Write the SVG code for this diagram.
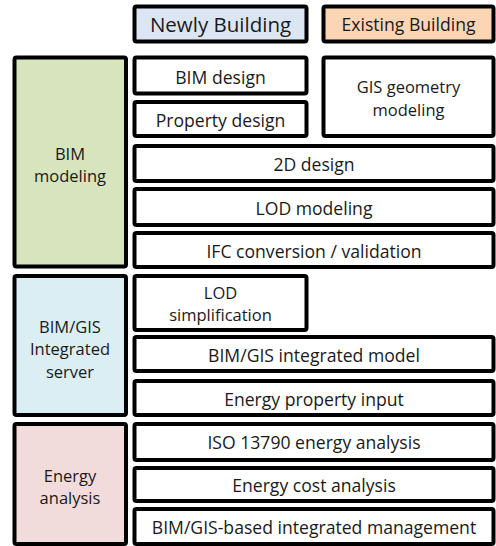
<svg xmlns="http://www.w3.org/2000/svg" width="496" height="546" viewBox="0 0 496 546">
<style>
rect{stroke:#000;stroke-width:4;fill:#fff}
text{font-family:"Open Sans","Noto Sans","DejaVu Sans",sans-serif;font-size:17.6px;fill:#1a1a1a;text-anchor:middle}
.hdr{font-size:20.5px}
.ml{font-size:16.5px}
.new{fill:#dce6f2}.old{fill:#fcd5b5}.green{fill:#d7e4bd}.blue{fill:#dbeef4}.pink{fill:#f2dcdb}
</style>
<rect x="0" y="0" width="496" height="546" style="fill:#fff;stroke:none"/>
<g id="newly-building"><rect class="new" x="134.5" y="6.5" width="172" height="35" rx="2"/><text class="hdr" x="220.5" y="31.5">Newly Building</text></g>
<g id="existing-building"><rect class="old" x="323.5" y="6.5" width="170" height="35" rx="2"/><text x="408.5" y="30.5">Existing Building</text></g>

<g id="bim-modeling"><rect class="green" x="14.5" y="57.5" width="111.5" height="209" rx="2"/><text class="ml" x="70" y="159.5">BIM</text><text class="ml" x="70" y="182">modeling</text></g>
<g id="bim-design"><rect x="134.5" y="57.5" width="172" height="36" rx="2"/><text x="220.5" y="83.5">BIM design</text></g>
<g id="property-design"><rect x="134.5" y="102" width="172" height="34" rx="2"/><text x="220.5" y="127">Property design</text></g>
<g id="gis-geometry"><rect x="323.5" y="57.5" width="170" height="78.5" rx="2"/><text class="ml" x="408.5" y="93">GIS geometry</text><text class="ml" x="408.5" y="115.5">modeling</text></g>
<g id="design-2d"><rect x="134.5" y="146" width="359" height="35" rx="2"/><text x="314" y="171">2D design</text></g>
<g id="lod-modeling"><rect x="134.5" y="189" width="359" height="36" rx="2"/><text x="314" y="215">LOD modeling</text></g>
<g id="ifc"><rect x="134.5" y="233" width="359" height="34" rx="2"/><text x="314" y="257.5">IFC conversion / validation</text></g>

<g id="bim-gis-server"><rect class="blue" x="14.5" y="276" width="111.5" height="139" rx="2"/><text class="ml" x="70" y="332.5">BIM/GIS</text><text class="ml" x="70" y="355">Integrated</text><text class="ml" x="70" y="377.5">server</text></g>
<g id="lod-simplification"><rect x="134.5" y="276" width="172" height="54" rx="2"/><text class="ml" x="220.5" y="298.5">LOD</text><text class="ml" x="220.5" y="321">simplification</text></g>
<g id="integrated-model"><rect x="134.5" y="337" width="359" height="34" rx="2"/><text x="314" y="361.5">BIM/GIS integrated model</text></g>
<g id="energy-property"><rect x="134.5" y="381" width="359" height="34" rx="2"/><text x="314" y="405.5">Energy property input</text></g>

<g id="energy-analysis"><rect class="pink" x="14.5" y="424" width="111.5" height="120" rx="2"/><text class="ml" x="70" y="481.5">Energy</text><text class="ml" x="70" y="504">analysis</text></g>
<g id="iso"><rect x="134.5" y="424" width="359" height="36" rx="2"/><text x="314" y="448.5">ISO 13790 energy analysis</text></g>
<g id="energy-cost"><rect x="134.5" y="468" width="359" height="33" rx="2"/><text x="314" y="492">Energy cost analysis</text></g>
<g id="integrated-management"><rect x="134.5" y="509" width="359" height="35" rx="2"/><text x="314" y="534">BIM/GIS-based integrated management</text></g>
<g id="connectors"/>
</svg>
